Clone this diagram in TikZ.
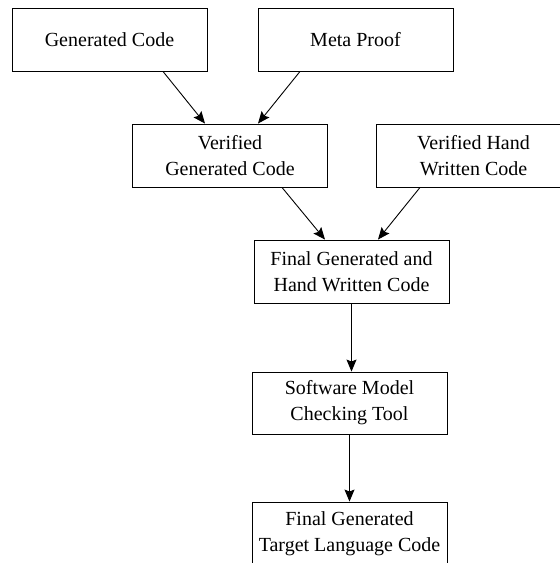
\documentclass[tikz,border=0pt]{standalone}
\usepackage{fontspec}
\setmainfont{Liberation Serif}
\usetikzlibrary{arrows.meta}
\begin{document}
\begin{tikzpicture}[x=1pt,y=-1pt,
  box/.style={draw,line width=0.9pt,rectangle,minimum width=195pt,minimum height=63pt,
    align=center,inner sep=0pt,font=\fontsize{20}{26}\selectfont},
  arr/.style={line width=0.9pt,-{Stealth[length=12pt,width=10pt,inset=2pt]}}]
\useasboundingbox (0,0) rectangle (560,563);
\clip (0,0) rectangle (560,563);
\node[box] (gc) at (109.5,39.5) {Generated Code};
\node[box] (mp) at (355.5,39.5) {Meta Proof};
\node[box] (vgc) at (230,155.5) {Verified\\Generated Code};
\node[box] (vhwc) at (473.5,155.5) {Verified Hand\\Written Code};
\node[box] (fgh) at (351.5,271.5) {Final Generated and\\Hand Written Code};
\node[box,minimum height=62pt] (smc) at (349.5,403) {Software Model\\Checking Tool};
\node[box] (fgt) at (349.5,533.5) {Final Generated\\Target Language Code};
\draw[arr] ([xshift=53.5pt]gc.south) -- ([xshift=-25pt]vgc.north);
\draw[arr] ([xshift=-55.5pt]mp.south) -- ([xshift=28pt]vgc.north);
\draw[arr] ([xshift=52pt]vgc.south) -- ([xshift=-26.5pt]fgh.north);
\draw[arr] ([xshift=-53.5pt]vhwc.south) -- ([xshift=26.5pt]fgh.north);
\draw[arr] (fgh.south) -- (fgh.south |- smc.north);
\draw[arr] (smc.south) -- (fgt.north);
\end{tikzpicture}
\end{document}
